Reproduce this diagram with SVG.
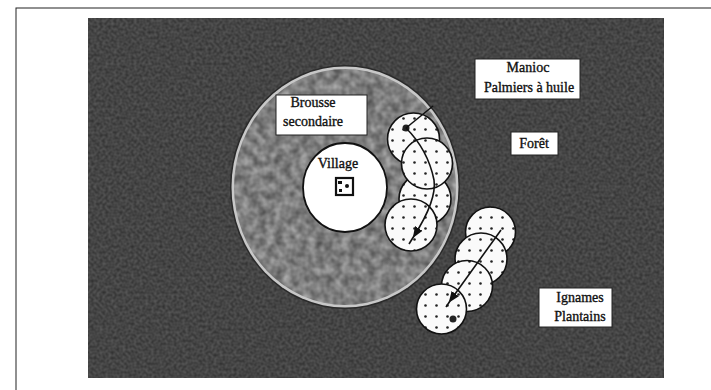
<svg xmlns="http://www.w3.org/2000/svg" width="711" height="390" viewBox="0 0 711 390">
<style>
.lbl{font-family:"Liberation Serif","Times New Roman",serif;font-size:14px;fill:#111;stroke:#111;stroke-width:0.35;text-anchor:middle}
.box{fill:#fff;stroke:#222;stroke-width:1}
.field{fill:url(#dots);stroke:#111;stroke-width:1.6}
.path{fill:none;stroke:#111;stroke-width:1.6}
</style>
<defs>
<pattern id="dots" width="11" height="11" patternUnits="userSpaceOnUse" x="2" y="3">
<rect width="11" height="11" fill="#fafafa"/>
<circle cx="5.5" cy="5.5" r="1.3" fill="#222"/>
</pattern>
<filter id="mottle" x="0" y="0" width="100%" height="100%" color-interpolation-filters="sRGB">
<feTurbulence type="fractalNoise" baseFrequency="0.12" numOctaves="2" seed="3" result="n"/>
<feColorMatrix in="n" type="matrix" values="0.45 0 0 0 0.27  0.45 0 0 0 0.27  0.45 0 0 0 0.27  0 0 0 0 1" result="g"/>
<feComposite in="g" in2="SourceGraphic" operator="in"/>
</filter>
<filter id="grain" x="0" y="0" width="100%" height="100%" color-interpolation-filters="sRGB">
<feTurbulence type="fractalNoise" baseFrequency="0.35" numOctaves="1" seed="7" result="n"/>
<feColorMatrix in="n" type="matrix" values="0.22 0 0 0 0.16  0.22 0 0 0 0.16  0.22 0 0 0 0.16  0 0 0 0 1" result="g"/>
<feComposite in="g" in2="SourceGraphic" operator="in"/>
</filter>
<marker id="ah" viewBox="0 0 10 10" refX="8" refY="5" markerWidth="7" markerHeight="7" orient="auto">
<path d="M0,1 L10,5 L0,9 z" fill="#111"/>
</marker>
</defs>

<rect x="16" y="8" width="710" height="400" fill="#fff" stroke="#222" stroke-width="1"/>

<g id="foret-bg">
<rect x="88" y="18" width="576" height="360" fill="#444" filter="url(#grain)"/>
</g>

<g id="brousse">
<ellipse cx="345" cy="187" rx="115" ry="122" fill="#2a2a2a"/>
<ellipse cx="345" cy="187" rx="113.5" ry="120.5" fill="#c8c8c8"/>
<ellipse cx="345" cy="187" rx="111" ry="118" fill="#808080" filter="url(#mottle)"/>
</g>

<g id="village">
<ellipse cx="345" cy="187.5" rx="42" ry="44.5" fill="#fff" stroke="#111" stroke-width="1.8"/>
<text class="lbl" x="338" y="168">Village</text>
<rect x="336" y="178" width="17" height="17" fill="#fff" stroke="#111" stroke-width="2.2"/>
<rect x="338" y="181" width="4" height="3" fill="#111"/>
<circle cx="347" cy="186" r="2" fill="#111"/>
<rect x="339" y="189" width="3" height="3" fill="#111"/>
</g>

<g id="manioc-fields">
<circle class="field" cx="413.5" cy="139" r="26"/>
<circle class="field" cx="425" cy="199" r="26"/>
<circle class="field" cx="427" cy="163.5" r="25.5"/>
<circle class="field" cx="411" cy="225" r="26"/>
<circle cx="406" cy="128" r="3.5" fill="#222"/>
</g>

<g id="igname-fields">
<circle class="field" cx="490.5" cy="232" r="25"/>
<circle class="field" cx="481" cy="259" r="26"/>
<circle class="field" cx="467" cy="286" r="25.5"/>
<circle class="field" cx="441.5" cy="309" r="25"/>
<circle cx="453" cy="319" r="3.5" fill="#222"/>
</g>

<g id="connectors">
<path class="path" d="M433,106 L406,128"/>
<path class="path" d="M406,128 Q428,150 434,180 Q437,200 414,236" marker-end="url(#ah)"/>
<path class="path" d="M414,236 L409,244"/>
<path class="path" d="M501,230 L450,301" marker-end="url(#ah)"/>
<path class="path" d="M450,301 L446,307"/>
</g>

<g id="label-brousse">
<rect class="box" x="276" y="95" width="91" height="40"/>
<text class="lbl" x="313" y="107">Brousse</text>
<text class="lbl" x="313" y="126">secondaire</text>
</g>

<g id="label-manioc">
<rect class="box" x="475" y="59" width="105" height="40"/>
<text class="lbl" x="528" y="72">Manioc</text>
<text class="lbl" x="529" y="92">Palmiers à huile</text>
</g>

<g id="label-foret">
<rect class="box" x="511" y="132" width="47" height="23"/>
<text class="lbl" x="534" y="148">Forêt</text>
</g>

<g id="label-ignames">
<rect class="box" x="539" y="288" width="73" height="39"/>
<text class="lbl" x="580" y="302">Ignames</text>
<text class="lbl" x="580" y="321">Plantains</text>
</g>
</svg>
